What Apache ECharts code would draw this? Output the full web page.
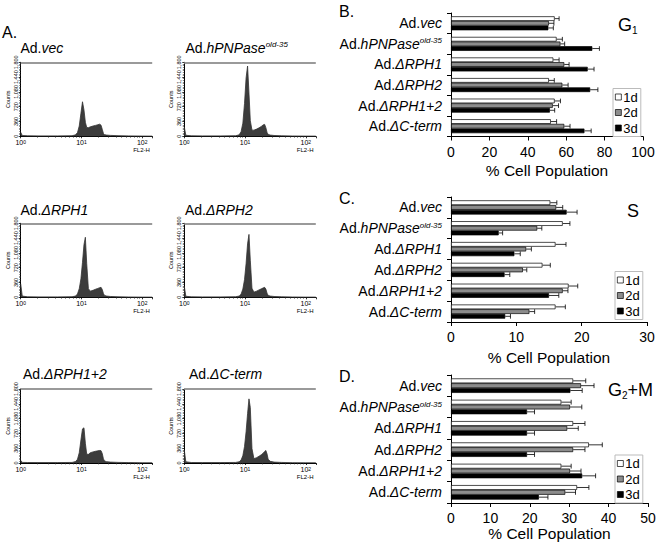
<!DOCTYPE html>
<html><head><meta charset="utf-8">
<script src="https://cdn.jsdelivr.net/npm/echarts@6/dist/echarts.min.js"></script>
<style>html,body{margin:0;padding:0;background:#fff}#c{width:664px;height:547px}</style>
</head><body><div id="c"></div>
<script>
// ---------- DATA ----------
const categories = ['vec', 'hPNPase', 'ΔRPH1', 'ΔRPH2', 'ΔRPH1+2', 'ΔC-term'];
const days = ['1d', '2d', '3d'];

// Panel B: G1 (% cell population)
const g1_1d = [54, 55, 53.3, 51, 54, 52];
const g1_2d = [51, 57, 59, 58, 53, 59];
const g1_3d = [50.7, 73.6, 71.2, 72.5, 51.5, 69.5];
const g1_err_1d = [2.3, 3, 3, 2.8, 3, 3];
const g1_err_2d = [2.6, 2.2, 2.5, 3, 3, 3];
const g1_err_3d = [2.6, 3.7, 3.3, 4, 2.5, 3.5];

// Panel C: S
const s_1d = [15.2, 17.1, 16, 14, 18, 16];
const s_2d = [16.1, 13.2, 11.5, 11, 17.1, 12];
const s_3d = [17.7, 7.3, 9.7, 8.2, 15, 8.3];
const s_err_1d = [1, 1.1, 1.6, 1.2, 1.4, 1.5];
const s_err_2d = [1, 0.7, 0.8, 0.6, 0.8, 0.8];
const s_err_3d = [1.6, 0.6, 0.9, 0.8, 1.5, 0.8];

// Panel D: G2+M
const g2m_1d = [31, 28, 31, 35, 28, 32];
const g2m_2d = [33, 30.2, 29.5, 31, 30.2, 29];
const g2m_3d = [30.3, 19.3, 19.3, 19.3, 33.3, 22.3];
const g2m_err_1d = [3.2, 2.5, 3, 3.4, 2.5, 3];
const g2m_err_2d = [3.3, 3, 2.8, 3, 2.8, 2.6];
const g2m_err_3d = [3, 1.9, 1.9, 1.9, 3.4, 2.3];

// Panel A: flow cytometry histograms (FL2-H channel vs counts)
const histX = [1, 1.06, 1.3, 2, 4, 7, 8, 8.6, 9.2, 9.8, 10.4, 11, 11.6, 12.2, 13, 14, 15.5, 17, 18.5, 20, 21, 22, 23, 24, 26, 30, 40, 60, 100, 146];
const hist_vec      = [100, 20, 12, 10, 10, 14, 35, 90, 250, 560, 840, 640, 340, 215, 210, 230, 250, 265, 280, 295, 270, 170, 70, 40, 30, 22, 15, 10, 6, 5];
const hist_hPNPase  = [225, 25, 12, 10, 10, 14, 35, 110, 320, 800, 1420, 1710, 1050, 380, 150, 150, 175, 205, 240, 280, 290, 210, 95, 45, 30, 20, 12, 8, 5, 5];
const hist_RPH1     = [330, 30, 12, 10, 10, 14, 30, 80, 210, 450, 850, 1280, 1460, 820, 210, 150, 170, 195, 215, 235, 242, 190, 90, 45, 30, 20, 12, 8, 5, 5];
const hist_RPH2     = [265, 25, 12, 10, 10, 14, 30, 75, 200, 430, 820, 1300, 1530, 900, 220, 125, 150, 180, 205, 230, 242, 200, 100, 45, 30, 20, 12, 8, 5, 5];
const hist_RPH12    = [65, 15, 12, 10, 10, 14, 35, 90, 250, 560, 830, 855, 480, 215, 210, 250, 270, 285, 295, 305, 300, 230, 100, 50, 32, 22, 15, 10, 6, 5];
const hist_Cterm    = [310, 30, 12, 10, 10, 14, 30, 70, 180, 400, 760, 1200, 1560, 1350, 350, 105, 130, 165, 200, 245, 280, 305, 220, 90, 40, 22, 14, 8, 5, 5];

// ---------- BUILD ----------
const FONT = 'Liberation Sans, Arial, Helvetica, sans-serif';
const labelRich = {
  i: { fontStyle: 'italic', fontSize: 14, fontFamily: FONT, color: '#000' },
  sup: { fontStyle: 'italic', fontSize: 8, fontFamily: FONT, verticalAlign: 'top', color: '#000' }
};
function catText(c) {
  return c === 'hPNPase' ? 'Ad.{i|hPNPase}{sup|old-35}' : 'Ad.{i|' + c + '}';
}

const histSets = [hist_vec, hist_hPNPase, hist_RPH1, hist_RPH2, hist_RPH12, hist_Cterm];
const histLeft = [20.7, 184.3];
const histTop = [62.3, 223.3, 389];
const histTitleX = [[20.5, 185.5], [20.5, 185], [23, 189]];
const histTitleY = [48, 210, 374];

const grid = [], xAxis = [], yAxis = [], series = [], title = [], legend = [];

histSets.forEach((h, i) => {
  const col = i % 2, row = Math.floor(i / 2);
  const L = histLeft[col], T = histTop[row], W = 131.5, H = 74;
  grid.push({ left: L, top: T, width: W, height: H });
  xAxis.push({
    gridIndex: i, type: 'log', logBase: 10, min: 1, max: 146,
    axisLine: { lineStyle: { color: '#000', width: 1 } },
    axisTick: { length: 2, lineStyle: { color: '#000', width: 0.8 } },
    minorTick: { show: true, splitNumber: 10, length: 1.5, lineStyle: { color: '#333', width: 0.6 } },
    splitLine: { show: false },
    axisLabel: {
      fontSize: 7, color: '#000', margin: 3, fontFamily: FONT,
      formatter: v => '10{s|' + Math.round(Math.log10(v)) + '}',
      rich: { s: { fontSize: 5, verticalAlign: 'top', fontFamily: FONT } }
    }
  });
  yAxis.push({
    gridIndex: i, type: 'value', min: 0, max: 1800, interval: 360,
    axisLine: { show: true, lineStyle: { color: '#000', width: 1 } },
    axisTick: { show: true, length: 2, lineStyle: { color: '#000', width: 0.8 } },
    minorTick: { show: true, splitNumber: 9, length: 1.5, lineStyle: { color: '#333', width: 0.6 } },
    splitLine: { show: false },
    axisLabel: { fontSize: 5.5, color: '#000', rotate: 90, margin: 2, fontFamily: FONT,
      showMinLabel: true, showMaxLabel: true, hideOverlap: false },
    name: 'Counts', nameLocation: 'middle', nameGap: 10, nameRotate: 90,
    nameTextStyle: { fontSize: 5.5, color: '#000', fontFamily: FONT }
  });
  series.push({
    type: 'line', xAxisIndex: i, yAxisIndex: i, silent: true, animation: false,
    symbol: 'none', smooth: false,
    data: histX.map((x, k) => [x, h[k]]),
    lineStyle: { color: '#333', width: 0.8 },
    areaStyle: { color: '#3c3c3c', opacity: 1 },
    markLine: {
      silent: true, symbol: 'none', label: { show: false },
      lineStyle: { color: '#9a9a9a', width: 2, type: 'solid' },
      data: [{ yAxis: 1800 }]
    }
  });
  title.push({
    text: catText(categories[i]), left: histTitleX[row][col], top: histTitleY[row] - 8, padding: 0,
    textStyle: { fontSize: 14, lineHeight: 16, fontWeight: 'normal', color: '#000', fontFamily: FONT, rich: labelRich }
  });
  title.push({
    text: 'FL2-H', left: L + W - 19, top: T + H + 11, padding: 0,
    textStyle: { fontSize: 6, fontWeight: 'normal', color: '#000', fontFamily: FONT }
  });
});

const panels = [
  { vals: [g1_1d, g1_2d, g1_3d], errs: [g1_err_1d, g1_err_2d, g1_err_3d], max: 100, interval: 20,
    grid: { left: 451, top: 13, width: 192, height: 123.5 }, nameGap: 26, legend: { left: 613, top: 88.5 } },
  { vals: [s_1d, s_2d, s_3d], errs: [s_err_1d, s_err_2d, s_err_3d], max: 30, interval: 10,
    grid: { left: 451, top: 197, width: 196, height: 125 }, nameGap: 27, legend: { left: 615, top: 271.5 } },
  { vals: [g2m_1d, g2m_2d, g2m_3d], errs: [g2m_err_1d, g2m_err_2d, g2m_err_3d], max: 50, interval: 10,
    grid: { left: 451, top: 375, width: 197, height: 128 }, nameGap: 22, legend: { left: 615, top: 455 } }
];
const dayColors = ['#ffffff', '#8c8c8c', '#000000'];
const CAT_GAP = 0.32;

panels.forEach((p, k) => {
  const gi = 6 + k;
  grid.push(p.grid);
  xAxis.push({
    gridIndex: gi, type: 'value', min: 0, max: p.max, interval: p.interval,
    axisLine: { show: true, lineStyle: { color: '#000', width: 1 } },
    axisTick: { show: true, length: 4, lineStyle: { color: '#000' } },
    splitLine: { show: false },
    axisLabel: { fontSize: 14, color: '#000', margin: 8, fontFamily: FONT },
    name: '% Cell Population', nameLocation: 'middle', nameGap: p.nameGap,
    nameTextStyle: { fontSize: 15.5, color: '#000', fontFamily: FONT }
  });
  yAxis.push({
    gridIndex: gi, type: 'category', inverse: true, data: categories,
    axisLine: { show: true, lineStyle: { color: '#000', width: 1 } },
    axisTick: { show: true, length: 4, lineStyle: { color: '#000' } },
    axisLabel: { fontSize: 14, color: '#000', margin: 9, fontFamily: FONT, formatter: catText, rich: labelRich }
  });
  days.forEach((d, di) => {
    series.push({
      type: 'bar', name: d, xAxisIndex: gi, yAxisIndex: gi, silent: true, animation: false,
      data: p.vals[di], barGap: '0%', barCategoryGap: (CAT_GAP * 100) + '%',
      itemStyle: { color: dayColors[di], borderColor: '#000', borderWidth: 0.7 }
    });
  });
  const errData = [];
  days.forEach((d, di) => categories.forEach((c, ci) => errData.push([ci, p.vals[di][ci], p.errs[di][ci], di])));
  series.push({
    type: 'custom', name: 'err', xAxisIndex: gi, yAxisIndex: gi, silent: true, animation: false,
    data: errData, encode: { y: 0, x: [1, 2] },
    renderItem: (params, api) => {
      const ci = api.value(0), v = api.value(1), e = api.value(2), di = api.value(3);
      const band = api.size([0, 1])[1];
      const bw = band * (1 - CAT_GAP) / 3;
      const p0 = api.coord([v, ci]);
      const p1 = api.coord([v + e, ci]);
      const y = p0[1] + (di - 1) * bw;
      const half = bw * 0.5;
      return {
        type: 'group', children: [
          { type: 'line', shape: { x1: p0[0], y1: y, x2: p1[0], y2: y }, style: { stroke: '#000', lineWidth: 0.8 } },
          { type: 'line', shape: { x1: p1[0], y1: y - half, x2: p1[0], y2: y + half }, style: { stroke: '#000', lineWidth: 0.8 } }
        ]
      };
    }
  });
  legend.push({
    left: p.legend.left, top: p.legend.top, orient: 'vertical', data: days,
    icon: 'rect', itemWidth: 6, itemHeight: 6, itemGap: 2.5,
    padding: [2, 3, 2, 2], borderColor: '#bbb', borderWidth: 1,
    selectedMode: false,
    itemStyle: { borderColor: '#000', borderWidth: 0.7 },
    textStyle: { fontSize: 13, lineHeight: 13, color: '#000', fontFamily: FONT, padding: [0, 0, 0, -3] }
  });
});

// panel letters and phase labels
title.push({ text: 'A.', left: 2, top: 24, padding: 0, textStyle: { fontSize: 16, fontWeight: 'normal', color: '#000', fontFamily: FONT } });
title.push({ text: 'B.', left: 339, top: 3, padding: 0, textStyle: { fontSize: 16, fontWeight: 'normal', color: '#000', fontFamily: FONT } });
title.push({ text: 'C.', left: 339, top: 190, padding: 0, textStyle: { fontSize: 16, fontWeight: 'normal', color: '#000', fontFamily: FONT } });
title.push({ text: 'D.', left: 339, top: 368, padding: 0, textStyle: { fontSize: 16, fontWeight: 'normal', color: '#000', fontFamily: FONT } });
const phaseRich = { sub: { fontSize: 10, verticalAlign: 'bottom', fontFamily: FONT, color: '#000', padding: [6, 0, 0, 0] } };
title.push({ text: 'G{sub|1}', left: 618, top: 15, padding: 0, textStyle: { fontSize: 18, lineHeight: 20, fontWeight: 'normal', color: '#000', fontFamily: FONT, rich: phaseRich } });
title.push({ text: 'S', left: 627, top: 201, padding: 0, textStyle: { fontSize: 18, lineHeight: 20, fontWeight: 'normal', color: '#000', fontFamily: FONT } });
title.push({ text: 'G{sub|2}+M', left: 608, top: 380, padding: 0, textStyle: { fontSize: 18, lineHeight: 20, fontWeight: 'normal', color: '#000', fontFamily: FONT, rich: phaseRich } });

const chart = echarts.init(document.getElementById('c'), null, { renderer: 'svg' });
chart.setOption({
  animation: false, backgroundColor: '#fff',
  textStyle: { fontFamily: FONT, color: '#000' },
  grid, xAxis, yAxis, series, title, legend
});
</script></body></html>
